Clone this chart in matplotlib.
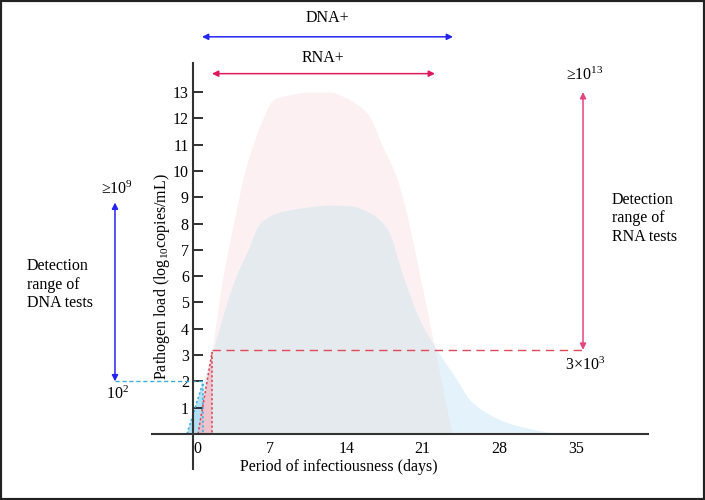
import numpy as np
import matplotlib
matplotlib.use("Agg")
import matplotlib.pyplot as plt
from matplotlib.patches import Rectangle

plt.rcParams['font.family'] = ['Liberation Serif', 'DejaVu Serif']
plt.rcParams['mathtext.fontset'] = 'custom'
plt.rcParams['mathtext.rm'] = 'Liberation Serif'
plt.rcParams['mathtext.it'] = 'Liberation Serif:italic'

# RNA load curve (days, log10 copies/mL)
rna_days = [0.46, 1.74, 2.74, 3.66, 4.75, 5.48, 6.40, 7.31, 8.87, 10.69, 12.52,
            13.89, 15.90, 17.37, 18.65, 19.84, 20.75, 22.12, 23.67]
rna_load = [0, 3.2, 6.0, 7.9, 10.0, 11.0, 12.0, 12.7, 12.9, 13.0, 13.0,
            12.8, 12.2, 10.9, 9.7, 7.8, 6.0, 3.2, 0]

# DNA load curve
dna_days = [-0.55, 0.91, 1.83, 3.84, 5.03, 6.12, 7.68, 10.05, 12.52, 14.35, 16.18,
            17.73, 19.2, 20.75, 22.3, 24.13, 25.3, 26.87, 28.98, 31.44, 33.27]
dna_load = [0, 1.95, 3.2, 5.9, 7.0, 8.0, 8.4, 8.6, 8.7, 8.67, 8.4,
            7.8, 6.0, 4.3, 3.2, 2.05, 1.3, 0.8, 0.4, 0.15, 0]

# early detection triangles
dna_tri_days = [-0.55, 0.91, 0.91]
dna_tri_load = [0, 1.95, 0]
rna_tri_days = [0.46, 1.74, 1.74]
rna_tri_load = [0, 3.1, 0]

# detection limits
dna_low, dna_high = 2.0, 8.8
rna_low, rna_high = 3.2, 13.0
dna_range_x = -7.13
rna_range_x = 35.65
dna_pos = (0.82, 23.77)
rna_pos = (1.74, 22.12)

xticks = [0, 7, 14, 21, 28, 35]
yticks = list(range(1, 14))


def pchip(x, y, xn):
    # shape preserving cubic so the curves come out smooth
    x = np.asarray(x, float)
    y = np.asarray(y, float)
    h = np.diff(x)
    delta = np.diff(y) / h
    d = np.zeros_like(y)
    for k in range(1, len(x) - 1):
        if delta[k - 1] * delta[k] > 0:
            w1 = 2 * h[k] + h[k - 1]
            w2 = h[k] + 2 * h[k - 1]
            d[k] = (w1 + w2) / (w1 / delta[k - 1] + w2 / delta[k])
    d[0] = delta[0]
    d[-1] = delta[-1]
    out = np.zeros_like(xn)
    for i, xv in enumerate(xn):
        if xv <= x[0] or xv >= x[-1]:
            continue
        k = np.searchsorted(x, xv) - 1
        t = (xv - x[k]) / h[k]
        h00 = 2 * t**3 - 3 * t**2 + 1
        h10 = t**3 - 2 * t**2 + t
        h01 = -2 * t**3 + 3 * t**2
        h11 = t**3 - t**2
        out[i] = h00 * y[k] + h10 * h[k] * d[k] + h01 * y[k + 1] + h11 * h[k] * d[k + 1]
    return np.clip(out, 0, None)


fig = plt.figure(figsize=(7.05, 5.0), dpi=100)
ax = fig.add_axes([0, 0, 1, 1])
ax.set_xlim(-17.64, 46.80)
ax.set_ylim(-2.51, 16.50)
ax.patch.set_alpha(0)

pink = '#fcf0f2'
blue = '#e4f3fb'
grey = '#e5eaee'

grid = np.linspace(-1, 34, 2000)
p = pchip(rna_days, rna_load, grid)
b = pchip(dna_days, dna_load, grid)
ax.fill_between(grid, 0, p, color=pink, lw=0)
ax.fill_between(grid, 0, b, color=blue, lw=0)
ax.fill_between(grid, 0, np.minimum(p, b), color=grey, lw=0)

ax.fill(dna_tri_days, dna_tri_load, color='#a8dcf2', alpha=0.85, lw=0)
ax.fill(rna_tri_days, rna_tri_load, color='#eeb8c4', alpha=0.75, lw=0)
ax.plot(dna_tri_days + dna_tri_days[:1], dna_tri_load + dna_tri_load[:1],
        ls=(0, (1.5, 1.5)), color='#3aaee0', lw=1.1)
ax.plot(rna_tri_days + rna_tri_days[:1], rna_tri_load + rna_tri_load[:1],
        ls=(0, (1.5, 1.5)), color='#e0404f', lw=1.1)

# threshold dashed lines
ax.plot([dna_range_x, dna_tri_days[1]], [dna_low, dna_low], ls=(0, (3, 2)),
        color='#3aaee0', lw=1.0)
ax.plot([rna_tri_days[1], rna_range_x], [rna_low, rna_low], ls=(0, (6, 4)),
        color='#e04a58', lw=1.0)

# axes
for s in ['top', 'right']:
    ax.spines[s].set_visible(False)
ax.spines['left'].set_position(('data', 0))
ax.spines['bottom'].set_position(('data', 0))
ax.spines['left'].set_bounds(-1.35, 14.1)
ax.spines['bottom'].set_bounds(-3.75, 41.6)
for s in ['left', 'bottom']:
    ax.spines[s].set_color('#333333')
    ax.spines[s].set_linewidth(1.5)
    ax.spines[s].set_zorder(5)

ax.set_yticks(yticks)
ax.set_yticklabels([str(v) for v in yticks])
ax.tick_params(axis='y', direction='in', length=7.5, width=1.3, color='#222222',
               labelsize=11.5, pad=3)
ax.set_xticks(xticks)
ax.set_xticklabels([str(v) for v in xticks])
ax.tick_params(axis='x', length=0, labelsize=11.5, pad=5)
ax.get_xticklabels()[0].set_ha('left')

ax.text(13.3, -1.25, 'Period of infectiousness (days)', ha='center', va='center',
        fontsize=11.5)
ax.text(-2.85, 6.0, 'Pathogen load (log$_{10}$copies/mL)', rotation=90,
        ha='center', va='center', fontsize=11.5)

# range arrows
dna_col = '#2525f0'
rna_col = '#e0195a'
ax.annotate('', xy=(dna_range_x, dna_high), xytext=(dna_range_x, dna_low),
            arrowprops=dict(arrowstyle='<|-|>', color=dna_col, lw=1.1,
                            mutation_scale=9, shrinkA=0, shrinkB=0))
ax.annotate('', xy=(rna_range_x, rna_high), xytext=(rna_range_x, rna_low),
            arrowprops=dict(arrowstyle='<|-|>', color='#e4457c', lw=1.1,
                            mutation_scale=9, shrinkA=0, shrinkB=0))
ax.annotate('', xy=(dna_pos[0], 15.1), xytext=(dna_pos[1], 15.1), annotation_clip=False,
            arrowprops=dict(arrowstyle='<|-|>', color=dna_col, lw=1.1,
                            mutation_scale=9, shrinkA=0, shrinkB=0))
ax.annotate('', xy=(rna_pos[0], 13.7), xytext=(rna_pos[1], 13.7),
            arrowprops=dict(arrowstyle='<|-|>', color=rna_col, lw=1.1,
                            mutation_scale=9, shrinkA=0, shrinkB=0))

ax.text(12.25, 15.8, 'DNA+', ha='center', va='center', fontsize=11.5)
ax.text(11.9, 14.3, 'RNA+', ha='center', va='center', fontsize=11.5)
ax.text(dna_range_x + 0.2, 9.3, '≥10$^{9}$', ha='center', va='center', fontsize=11.5)
ax.text(dna_range_x + 0.2, 1.5, '10$^{2}$', ha='center', va='center', fontsize=11.5)
ax.text(rna_range_x + 0.2, 13.65, '≥10$^{13}$', ha='center', va='center', fontsize=11.5)
ax.text(rna_range_x + 0.2, 2.6, '3×10$^{3}$', ha='center', va='center', fontsize=11.5)
ax.text(-15.17, 5.67, 'Detection\nrange of\nDNA tests', ha='left', va='center',
        fontsize=11.5, linespacing=1.2)
ax.text(38.3, 8.2, 'Detection\nrange of\nRNA tests', ha='left', va='center',
        fontsize=11.5, linespacing=1.2)

fig.patches.append(Rectangle((0, 0), 1, 1, transform=fig.transFigure, fill=False,
                             edgecolor='#222222', lw=3))

fig.savefig('out.png', dpi=100)
